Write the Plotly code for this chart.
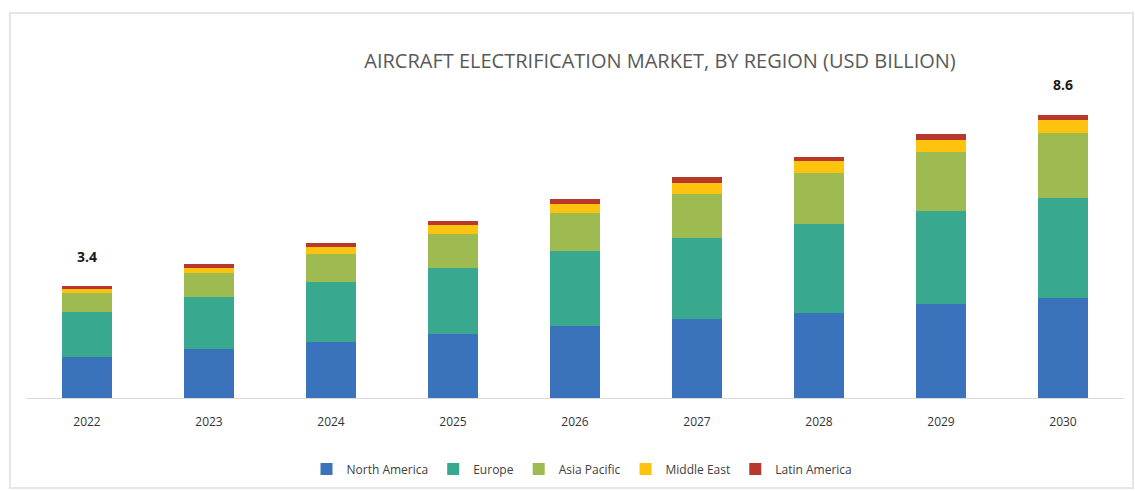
import plotly.graph_objects as go

years = ["2022", "2023", "2024", "2025", "2026", "2027", "2028", "2029", "2030"]

north_america = [1.24, 1.49, 1.71, 1.93, 2.19, 2.40, 2.57, 2.84, 3.03]
europe = [1.38, 1.57, 1.80, 2.03, 2.26, 2.47, 2.71, 2.83, 3.03]
asia_pacific = [0.56, 0.73, 0.86, 1.03, 1.17, 1.33, 1.54, 1.80, 2.00]
middle_east = [0.12, 0.17, 0.22, 0.25, 0.27, 0.34, 0.37, 0.36, 0.38]
latin_america = [0.10, 0.10, 0.12, 0.12, 0.16, 0.16, 0.13, 0.17, 0.16]

# totals shown above the first and last bars
labelled_years = ["2022", "2030"]
labelled_totals = [3.4, 8.6]

series = [
    ("North America", north_america, "#3A72BB"),
    ("Europe", europe, "#38A88E"),
    ("Asia Pacific", asia_pacific, "#9DBB50"),
    ("Middle East", middle_east, "#FDC30F"),
    ("Latin America", latin_america, "#B8392B"),
]

fig = go.Figure()
for name, values, color in series:
    fig.add_trace(go.Bar(
        x=years, y=values, name=name,
        marker=dict(color=color, line=dict(width=0)),
        hoverinfo="x+y+name",
    ))

# numeric-looking category names are addressed by their index on the axis
for yr, total in zip(labelled_years, labelled_totals):
    fig.add_annotation(
        x=years.index(yr), y=total, text=f"<b>{total}</b>", showarrow=False,
        yanchor="middle", yshift=30,
        font=dict(family="Open Sans", size=14, color="#1a1a1a"),
    )

W, H = 1135, 491
ml, mr, mt, mb = 26, 11, 100, 93
pw, ph = W - ml - mr, H - mt - mb


def px_x(p):
    return (p - ml) / pw


def px_y(p):
    return (H - mb - p) / ph


# light frame around the whole chart
fig.add_shape(
    type="rect", xref="paper", yref="paper",
    x0=px_x(10), x1=px_x(1133), y0=px_y(488), y1=px_y(13),
    line=dict(color="#e6e6e6", width=2), fillcolor="rgba(0,0,0,0)",
    layer="below",
)

fig.update_layout(
    width=W, height=H,
    margin=dict(l=ml, r=mr, t=mt, b=mb, autoexpand=False),
    barmode="stack",
    bargap=0.59,
    paper_bgcolor="white",
    plot_bgcolor="white",
    font=dict(family="Open Sans", color="#404040"),
    title=dict(
        text="AIRCRAFT ELECTRIFICATION MARKET, BY REGION (USD BILLION)",
        x=px_x(660), xref="paper", xanchor="center",
        y=1 - 61 / H, yref="container", yanchor="middle",
        font=dict(family="Open Sans", size=20, color="#595959"),
    ),
    xaxis=dict(
        type="category",
        categoryorder="array", categoryarray=years,
        range=[-0.5, len(years) - 0.5],
        automargin=False,
        showline=True, linecolor="#d9d9d9", linewidth=1,
        ticks="", showgrid=False,
        tickfont=dict(family="Open Sans", size=12, color="#333333"),
        ticklabelstandoff=13,
    ),
    yaxis=dict(
        range=[0, 298 / 32.94], visible=False, showgrid=False,
        zeroline=False, automargin=False,
    ),
    legend=dict(
        orientation="h",
        x=px_x(582), xanchor="center",
        y=px_y(469), yanchor="middle",
        font=dict(family="Open Sans", size=12, color="#404040"),
        traceorder="normal",
        itemwidth=30,
    ),
    showlegend=True,
)

fig.write_html("out.html")
